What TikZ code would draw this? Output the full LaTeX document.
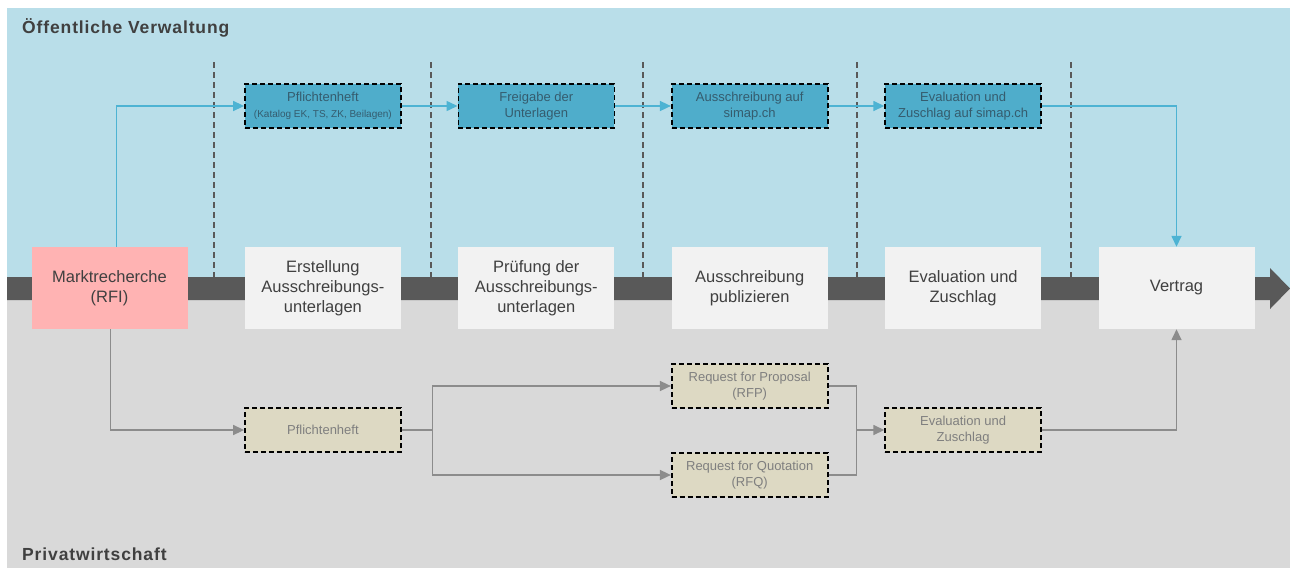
\documentclass[tikz,border=0pt]{standalone}
\usepackage{fontspec}
\setmainfont{Liberation Sans}
\usepackage{xcolor}
\usepackage{tikz}
\usetikzlibrary{positioning, arrows.meta}

\definecolor{publicbg}{HTML}{B9DEE9}
\definecolor{privatebg}{HTML}{D9D9D9}
\definecolor{bargray}{HTML}{595959}
\definecolor{phasegray}{HTML}{F2F2F2}
\definecolor{pinkred}{HTML}{FFB3B3}
\definecolor{taskblue}{HTML}{4FADCB}
\definecolor{taskbeige}{HTML}{DDD9C3}
\definecolor{flowblue}{HTML}{4DB3D3}
\definecolor{flowgray}{HTML}{8C8C8C}
\definecolor{textdark}{HTML}{404040}
\definecolor{tasktext}{HTML}{355C6E}
\definecolor{textgray}{HTML}{7F7F7F}

\begin{document}
\begin{tikzpicture}[
    x=1pt, y=-1pt,
    node distance=57pt,
    phase/.style={rectangle, fill=phasegray, minimum width=156pt, minimum height=82pt, align=center, text=textdark, font=\fontsize{16.5}{20}\selectfont},
    market/.style={phase, fill=pinkred},
    pubtask/.style={rectangle, draw=black, line width=1.6pt, dash pattern=on 5pt off 3pt, fill=taskblue, minimum width=156pt, minimum height=44pt, align=center, text=tasktext, font=\fontsize{13}{16}\selectfont},
    privtask/.style={pubtask, fill=taskbeige, text=textgray},
    pubflow/.style={draw=flowblue, line width=1.5pt, -{Triangle[length=11pt,width=10pt]}},
    privline/.style={draw=flowgray, line width=1.5pt},
    privflow/.style={privline, -{Triangle[length=11pt,width=10pt]}},
    sep/.style={draw=bargray, dash pattern=on 6pt off 4pt, line width=1.3pt},
    title/.style={anchor=base west, inner sep=0pt, text=textdark, font=\bfseries\addfontfeatures{LetterSpace=5}\fontsize{17.5}{20}\selectfont}
]
\useasboundingbox (0,0) rectangle (1290,568);

% Backgrounds and time line
\fill[publicbg] (7,8) rectangle (1290,288);
\fill[privatebg] (7,288) rectangle (1290,568);
\fill[bargray] (7,277) -- (1270,277) -- (1270,268) -- (1290,288.5) -- (1270,309) -- (1270,300) -- (7,300) -- cycle;
\foreach \x in {214,431,643,857,1071}
    \draw[sep] (\x,62) -- (\x,277);

% Titles
\node[title] (pubtitle) at (22,33) {Öffentliche Verwaltung};
\node[title] (privtitle) at (22,560) {Privatwirtschaft};

% Phases on the time line
\node[market] (markt) at (109.5,288) {Marktrecherche\\(RFI)};
\node[phase, right=of markt] (erst) {Erstellung\\Ausschreibungs-\\unterlagen};
\node[phase, right=of erst] (pruef) {Prüfung der\\Ausschreibungs-\\unterlagen};
\node[phase, right=of pruef] (publ) {Ausschreibung\\publizieren};
\node[phase, right=of publ] (eval) {Evaluation und\\Zuschlag};
\node[phase, right=of eval] (vertrag) {Vertrag};

% Public administration
\node[pubtask, above=118pt of erst] (pflicht) {Pflichtenheft\\{\fontsize{10}{12}\selectfont(Katalog EK, TS, ZK, Beilagen)}};
\node[pubtask, above=118pt of pruef] (freigabe) {Freigabe der\\Unterlagen};
\node[pubtask, above=118pt of publ] (simap) {Ausschreibung auf\\simap.ch};
\node[pubtask, above=118pt of eval] (zuschlag) {Evaluation und\\Zuschlag auf simap.ch};

% Private sector
\node[privtask, below=78pt of erst] (pflichtpriv) {Pflichtenheft};
\node[privtask, below=34pt of publ] (rfp) {Request for Proposal\\(RFP)};
\node[privtask, below=123pt of publ] (rfq) {Request for Quotation\\(RFQ)};
\node[privtask, below=78pt of eval] (evalpriv) {Evaluation und\\Zuschlag};
\coordinate[right=31pt of pflichtpriv.east] (split);
\coordinate[left=28pt of evalpriv.west] (join);

% Edges
\draw[pubflow] ([xshift=7pt]markt.north) |- (pflicht);
\draw[pubflow] (pflicht) -- (freigabe);
\draw[pubflow] (freigabe) -- (simap);
\draw[pubflow] (simap) -- (zuschlag);
\draw[pubflow] (zuschlag) -| (vertrag);

\draw[privflow] ([xshift=1pt]markt.south) |- (pflichtpriv);
\draw[privline] (pflichtpriv) -- (split);
\draw[privflow] (split) |- (rfp);
\draw[privflow] (split) |- (rfq);
\draw[privline] (rfp) -| (join);
\draw[privline] (rfq) -| (join);
\draw[privflow] (join) -- (evalpriv);
\draw[privflow] (evalpriv) -| (vertrag);

\end{tikzpicture}
\end{document}
